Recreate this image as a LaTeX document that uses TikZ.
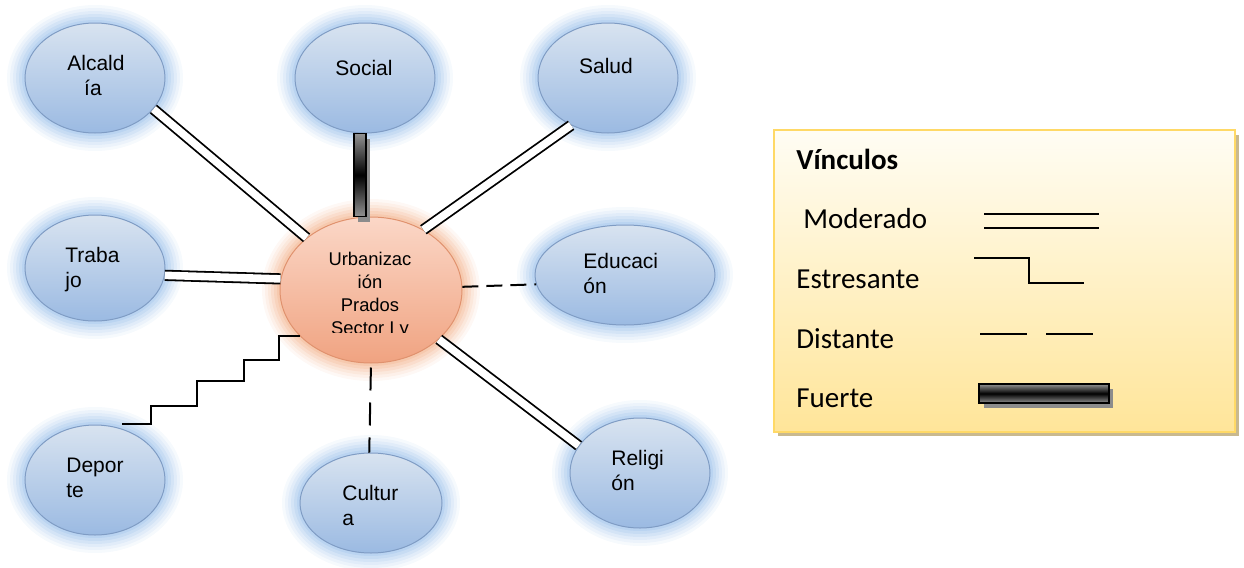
\documentclass[tikz,border=0pt]{standalone}
\usepackage{fontspec}
\setmainfont{Liberation Sans}
\newfontfamily\calib{Carlito}
\usetikzlibrary{shapes.geometric}
\definecolor{bTop}{HTML}{D8E3F0}
\definecolor{bBot}{HTML}{9BBAE2}
\definecolor{bEdge}{HTML}{7F9CC4}
\definecolor{bGlow}{HTML}{86B3E6}
\definecolor{oTop}{HTML}{FBD7C7}
\definecolor{oBot}{HTML}{F0A381}
\definecolor{oEdge}{HTML}{E0926E}
\definecolor{oGlow}{HTML}{F0A070}
\definecolor{legTop}{HTML}{FFFDF4}
\definecolor{legBot}{HTML}{FFE599}
\definecolor{legEdge}{HTML}{FFD966}
\definecolor{legShadow}{HTML}{C9B98F}
\newcommand\twolines[2]{\vtop{\hbox{#1}\hbox{#2}}}
\newcommand\glowat[5]{%
  \foreach \g/\o in {18/0.07,15/0.09,12/0.11,9/0.14,6/0.17,3/0.2}{%
    \fill[#1,opacity=\o] (#2,#3) ellipse [x radius={(#4+\g)*0.5pt}, y radius={(#5+\g)*0.5pt}];}}
\begin{document}
\begin{tikzpicture}[x=0.5pt,y=-0.5pt,
  bubble/.style={ellipse, draw=bEdge, line width=0.5pt, top color=bTop, bottom color=bBot, inner sep=0pt},
  hub/.style={ellipse, draw=oEdge, line width=0.5pt, top color=oTop, bottom color=oBot, inner sep=0pt},
  lbl/.style={font=\fontsize{10.5}{12.75}\selectfont, inner sep=0pt, anchor=base west},
  clbl/.style={font=\fontsize{9.2}{11.5}\selectfont, inner sep=0pt, anchor=base},
  leglbl/.style={font=\calib\fontsize{14.5}{17}\selectfont, inner sep=0pt, anchor=base west},
  moderado/.style={draw=black, line width=0.9pt, double=white, double distance=3.8pt},
  distante/.style={draw=black, line width=1pt},
  estresante/.style={draw=black, line width=1pt},
  fuerte/.style={draw=black, line width=0.9pt, top color=gray!85, bottom color=gray!85, middle color=black},
  fshadow/.style={fill=gray!90}
]
\useasboundingbox (0,0) rectangle (1244,568);

% glows
\glowat{bGlow}{95}{78}{70}{55}
\glowat{bGlow}{365}{78}{70}{55}
\glowat{bGlow}{608}{78}{70}{55}
\glowat{bGlow}{95}{268}{70}{53}
\glowat{bGlow}{625}{275}{90}{50}
\glowat{bGlow}{95}{480}{70}{55}
\glowat{bGlow}{371}{503}{71}{50}
\glowat{bGlow}{640}{473}{70}{55}
\glowat{oGlow}{371}{290}{91}{73}

% nodes
\node[bubble, minimum width=70pt, minimum height=55pt] (alc) at (95,78) {};
\node[bubble, minimum width=70pt, minimum height=55pt] (soc) at (365,78) {};
\node[bubble, minimum width=70pt, minimum height=55pt] (sal) at (608,78) {};
\node[bubble, minimum width=70pt, minimum height=53pt] (tra) at (95,268) {};
\node[bubble, minimum width=90pt, minimum height=50pt] (edu) at (625,275) {};
\node[bubble, minimum width=70pt, minimum height=55pt] (dep) at (95,480) {};
\node[bubble, minimum width=71pt, minimum height=50pt] (cul) at (371,503) {};
\node[bubble, minimum width=70pt, minimum height=55pt] (rel) at (640,473) {};
\node[hub, minimum width=91pt, minimum height=73pt] (ctr) at (371,290) {};

% labels
\node[lbl, anchor=base] (alcT1) at (96,70) {Alcald};
\node[lbl, anchor=base] (alcT2) at (93,95) {ía};
\node[lbl, anchor=base] (socT) at (364,75) {Social};
\node[lbl, anchor=base] (salT) at (606,73) {Salud};
\node[lbl] (traT) at (65,262) {\twolines{Traba}{jo}};
\node[lbl] (eduT) at (583,268) {\twolines{Educaci}{ón}};
\node[lbl] (depT) at (66,472) {\twolines{Depor}{te}};
\node[lbl] (culT) at (342,500) {\twolines{Cultur}{a}};
\node[lbl] (relT) at (611,465) {\twolines{Religi}{ón}};
\begin{scope}
  \clip (280,230) rectangle (462,332);
  \node[clbl] (ctrT1) at (370,265) {Urbanizac};
  \node[clbl] (ctrT2) at (370,288) {ión};
  \node[clbl] (ctrT3) at (370,311) {Prados};
  \node[clbl] (ctrT4) at (370,334) {Sector I y};
\end{scope}

% connectors
\path[moderado] (alc.-28) -- (ctr.141);
\path[moderado] (sal.232) -- (ctr.49.5);
\path[moderado] (tra.-6) -- (ctr.173);
\path[moderado] (ctr.-36.6) -- (rel.156.5);
\path[distante, dash pattern=on 8pt off 4pt] (ctr.2.5) -- (edu.186.5);
\path[distante, dash pattern=on 11.5pt off 6pt, dash phase=-2pt] (ctr.-90) -- (cul.92);
\path[estresante] (ctr.-147) -- ++(-21,0) -- ++(0,24) -- ++(-35,0) -- ++(0,21)
  -- ++(-47,0) -- ++(0,25) -- ++(-46,0) |- ([yshift=2.5pt]dep.62);
\path[fshadow] ([xshift=-3.5pt,yshift=-2.5pt]soc.south) rectangle ([xshift=-0.5pt,yshift=-2.5pt]ctr.north);
\path[fuerte] ([xshift=-5.5pt]soc.south) rectangle ([xshift=-2.5pt]ctr.north);

% legend
\fill[legShadow] (778,135) rectangle (1239,436);
\node[draw=legEdge, line width=1pt, top color=legTop, bottom color=legBot,
      minimum width=230.5pt, minimum height=151pt, inner sep=0pt] (leg) at (1004.5,281) {};
\node[leglbl, font=\calib\bfseries\fontsize{14.5}{17}\selectfont] (legT) at (796,169) {Vínculos};
\node[leglbl] (legM) at (803,228) {Moderado};
\node[leglbl] (legE) at (796,288) {Estresante};
\node[leglbl] (legD) at (796,348) {Distante};
\node[leglbl] (legF) at (796,407) {Fuerte};
\draw[line width=1pt] (984,214) -- (1099,214);
\draw[line width=1pt] (984,228) -- (1099,228);
\draw[estresante] (974,258) -- (1029,258) -- (1029,283) -- (1084,283);
\draw[distante] (980,334) -- (1027,334);
\draw[distante] (1046,334) -- (1093,334);
\fill[gray!90] (984,389) rectangle (1113,408);
\draw[fuerte] (979,384) rectangle (1109,403);
\end{tikzpicture}
\end{document}
